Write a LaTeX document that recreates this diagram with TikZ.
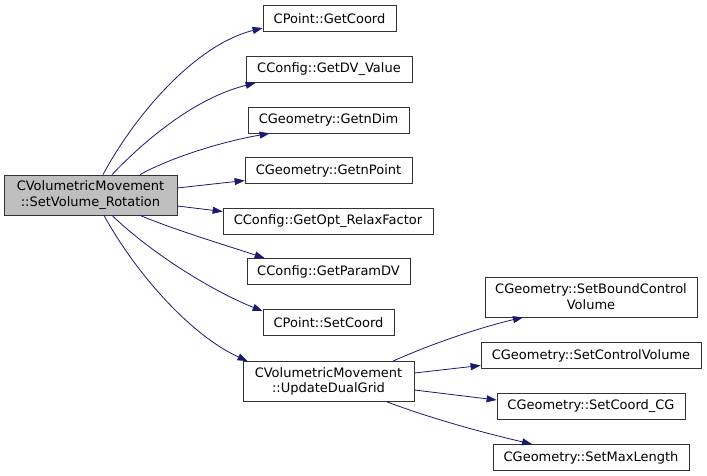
\documentclass[tikz,border=0pt]{standalone}
\usepackage{fontspec}
\setmainfont{DejaVu Sans}
\usetikzlibrary{arrows.meta,calc}
\definecolor{edgeblue}{HTML}{191970}
\definecolor{rootgray}{HTML}{BFBFBF}
\tikzset{
  fn/.style={draw=black!80, line width=0.8pt, fill=white, rectangle, inner sep=0pt, align=center,
    font=\fontsize{13}{15.7}\selectfont, minimum height=26pt},
  fn2/.style={fn, minimum height=40pt},
  call/.style={draw=edgeblue, line width=0.8pt, -{Triangle[length=10pt,width=7pt]}}
}
\begin{document}
\begin{tikzpicture}[x=1pt,y=-1pt]
\useasboundingbox (0,0) rectangle (707,476);
\node[fn2, fill=rootgray, minimum width=173pt] (root) at (90.5,195) {CVolumetricMovement\\::SetVolume\_Rotation};
\node[fn, minimum width=133pt] (gc) at (329.5,18.5) {CPoint::GetCoord};
\node[fn, minimum width=166pt] (dv) at (329,69.5) {CConfig::GetDV\_Value};
\node[fn, minimum width=161pt] (nd) at (328.5,120) {CGeometry::GetnDim};
\node[fn, minimum width=167pt] (np) at (328.5,170.5) {CGeometry::GetnPoint};
\node[fn, minimum width=210pt] (rf) at (328,221.5) {CConfig::GetOpt\_RelaxFactor};
\node[fn, minimum width=163pt] (pd) at (328.5,271.5) {CConfig::GetParamDV};
\node[fn, minimum width=131pt] (sc) at (328.5,322.5) {CPoint::SetCoord};
\node[fn2, minimum width=171pt] (ud) at (328.5,381.5) {CVolumetricMovement\\::UpdateDualGrid};
\node[fn2, minimum width=212pt] (bcv) at (591,297) {CGeometry::SetBoundControl\\Volume};
\node[fn, minimum width=220pt] (scv) at (591,355.5) {CGeometry::SetControlVolume};
\node[fn, minimum width=188pt] (cg) at (591,406) {CGeometry::SetCoord\_CG};
\node[fn, minimum width=196pt] (ml) at (591,457.5) {CGeometry::SetMaxLength};

\draw[call] ($(root.north)+(12.5,0)$) .. controls (135,115) and (195,45) .. ($(gc.west)+(0,9.5)$);
\draw[call] ($(root.north)+(21.5,0)$) .. controls (145,140) and (195,98) .. ($(dv.south west)+(10,0)$);
\draw[call] ($(root.north)+(49.5,0)$) .. controls (170,158) and (220,142) .. ($(nd.south west)+(22,0)$);
\draw[call] ($(root.east)+(0,-7)$) -- ($(np.west)+(0,10)$);
\draw[call] ($(root.east)+(0,11)$) -- ($(rf.west)+(0,-10)$);
\draw[call] ($(root.south)+(49.5,0)$) .. controls (175,230) and (225,245) .. ($(pd.north west)+(18,0)$);
\draw[call] ($(root.south)+(21.5,0)$) .. controls (150,252) and (210,290) .. ($(sc.north west)+(0,2)$);
\draw[call] ($(root.south)+(13.5,0)$) .. controls (135,272) and (190,335) .. ($(ud.north west)+(5,0)$);

\draw[call] ($(ud.north)+(64.5,0)$) .. controls (440,340) and (490,325) .. ($(bcv.south)+(-68,0)$);
\draw[call] ($(ud.east)+(0,-8.5)$) -- ($(scv.west)+(0,10)$);
\draw[call] ($(ud.east)+(0,8.5)$) -- ($(cg.west)+(0,-6)$);
\draw[call] ($(ud.south)+(58.5,0)$) .. controls (430,418) and (480,432) .. ($(ml.north)+(-59,0)$);
\end{tikzpicture}
\end{document}
